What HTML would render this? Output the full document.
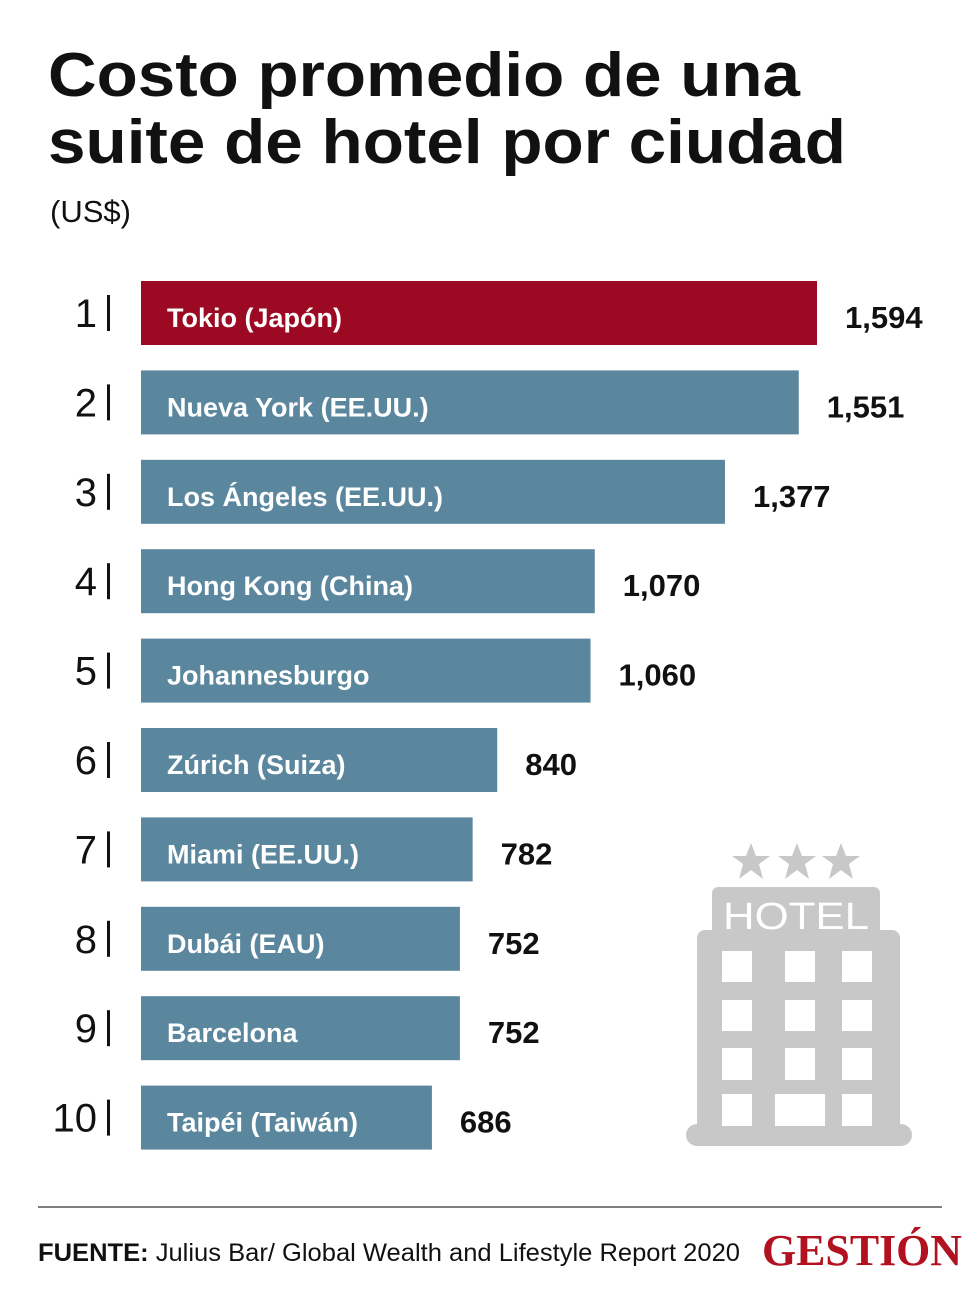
<!DOCTYPE html>
<html><head><meta charset="utf-8"><style>
body{margin:0;background:#fff;}
#wrap{position:relative;width:980px;height:1303px;overflow:hidden;font-family:"Liberation Sans",sans-serif;}
</style></head><body>
<div id="wrap">
<svg width="980" height="1303" id="chart">
<text x="48" y="96" font-size="62" font-weight="bold" fill="#111" textLength="752" lengthAdjust="spacingAndGlyphs">Costo promedio de una</text>
<text x="48" y="163" font-size="62" font-weight="bold" fill="#111" textLength="798" lengthAdjust="spacingAndGlyphs">suite de hotel por ciudad</text>
<text x="50" y="222" font-size="31" fill="#111">(US$)</text>
<g id="bars"></g>
<g fill="#c8c8c8">
<polygon points="751,843 756,856 770,856 759,864 763,879 751,870 739,879 743,864 732,856 746,856"/>
<polygon points="797,843 802,856 816,856 805,864 809,879 797,870 785,879 789,864 778,856 792,856"/>
<polygon points="841,843 846,856 860,856 849,864 853,879 841,870 829,879 833,864 822,856 836,856"/>
<rect x="712" y="887" width="168" height="50" rx="6"/>
<rect x="697" y="930" width="203" height="205" rx="8"/>
<rect x="686" y="1124" width="226" height="22" rx="11"/>
<text x="796" y="929" font-size="38" fill="#fff" text-anchor="middle" textLength="146" lengthAdjust="spacingAndGlyphs">HOTEL</text>
<g fill="#fff">
<rect x="722" y="951" width="30" height="31"/><rect x="785" y="951" width="30" height="31"/><rect x="842" y="951" width="30" height="31"/>
<rect x="722" y="1000" width="30" height="31"/><rect x="785" y="1000" width="30" height="31"/><rect x="842" y="1000" width="30" height="31"/>
<rect x="722" y="1048" width="30" height="32"/><rect x="785" y="1048" width="30" height="32"/><rect x="842" y="1048" width="30" height="32"/>
<rect x="722" y="1094" width="30" height="32"/><rect x="775" y="1094" width="50" height="32"/><rect x="842" y="1094" width="30" height="32"/>
</g></g>
<line x1="38" y1="1207" x2="942" y2="1207" stroke="#555" stroke-width="1.5"/>
<text x="38" y="1261" font-size="25" fill="#111" textLength="702" lengthAdjust="spacingAndGlyphs"><tspan font-weight="bold">FUENTE:</tspan> Julius Bar/ Global Wealth and Lifestyle Report 2020</text>
<text x="762" y="1265" font-size="44" font-weight="bold" fill="#b2121f" font-family="Liberation Serif,serif" textLength="200" lengthAdjust="spacingAndGlyphs">GESTIÓN</text>
</svg>
</div>
<script>
const categories=["Tokio (Japón)","Nueva York (EE.UU.)","Los Ángeles (EE.UU.)","Hong Kong (China)","Johannesburgo","Zúrich (Suiza)","Miami (EE.UU.)","Dubái (EAU)","Barcelona","Taipéi (Taiwán)"];
const values=[1594,1551,1377,1070,1060,840,782,752,752,686];
const valueLabels=["1,594","1,551","1,377","1,070","1,060","840","782","752","752","686"];
const ranks=["1","2","3","4","5","6","7","8","9","10"];
const NS="http://www.w3.org/2000/svg";
const x0=141, scale=676/1594, y0=281, pitch=89.4, bh=64;
const xs=v=>x0+v*scale, ys=i=>y0+i*pitch;
const g=document.getElementById('bars');
function mk(t,a,txt){const e=document.createElementNS(NS,t);for(const k in a)e.setAttribute(k,a[k]);if(txt!=null)e.textContent=txt;g.appendChild(e);return e;}
values.forEach((v,i)=>{
const y=ys(i);
const r=mk('rect',{x:x0,y:y,width:xs(v)-x0,height:bh,fill:i===0?'#9b0a22':'#5b879e'});


const l=mk('text',{x:167,y:y+bh/2+14,'font-size':27,'font-weight':'bold',fill:'#fff'},categories[i]);


const vl=mk('text',{x:xs(v)+28,y:y+bh/2+15,'font-size':31,'font-weight':'bold',fill:'#111'},valueLabels[i]);


const rk=mk('text',{x:97,y:y+bh/2+14,'font-size':40,'text-anchor':'end',fill:'#111'},ranks[i]);


const sep=mk('rect',{x:107,y:y+bh/2-18,width:3,height:36,fill:'#111'});


});
</script>
</body></html>
